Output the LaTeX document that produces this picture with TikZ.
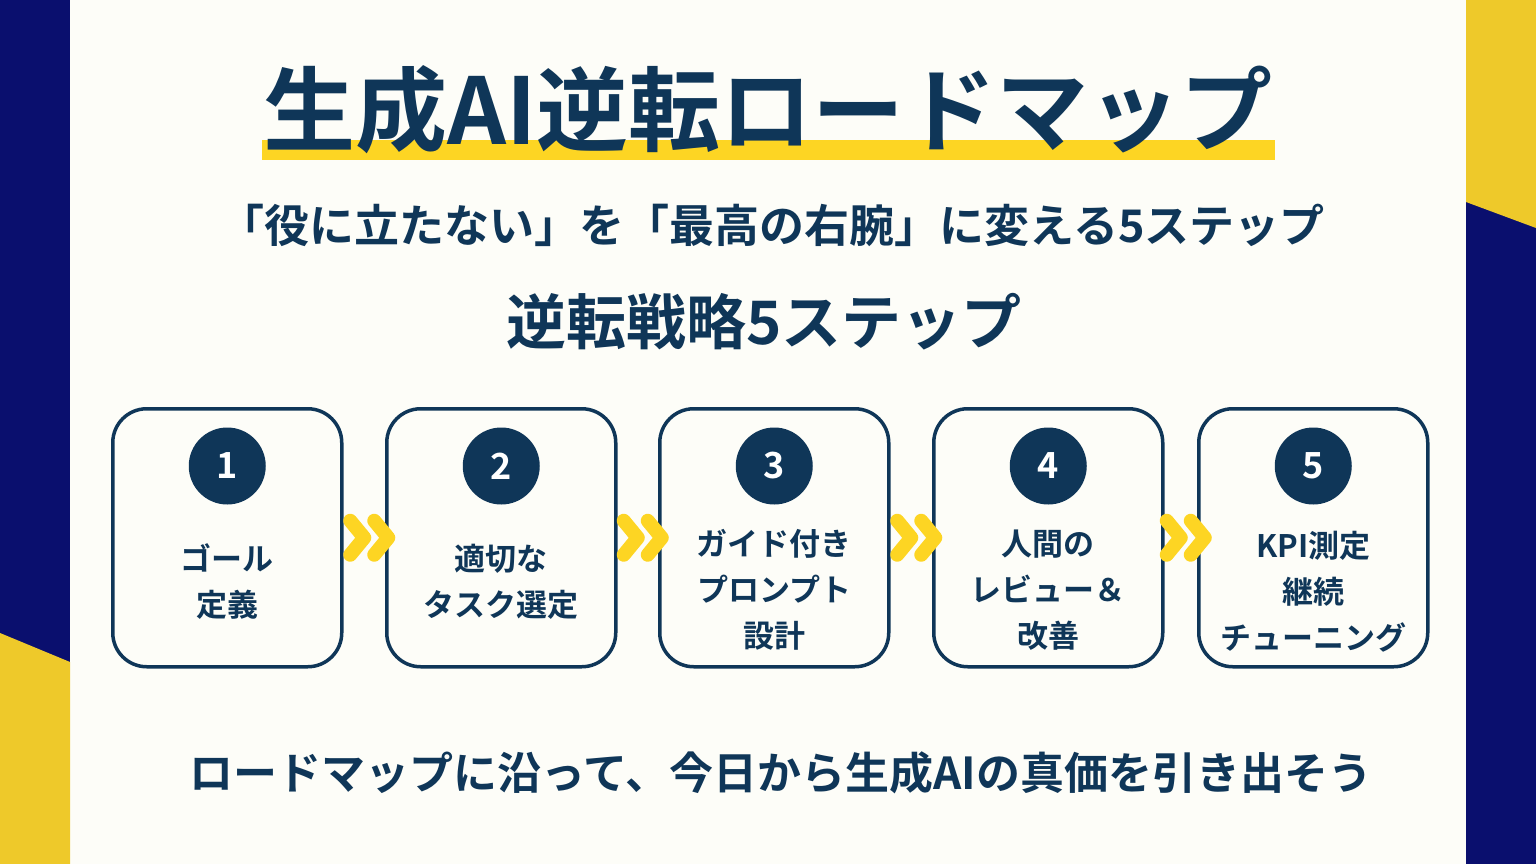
\documentclass[tikz,border=0pt]{standalone}
\usepackage{fontspec}
\usetikzlibrary{calc}
\setmainfont{Noto Sans CJK JP}[BoldFont={Noto Sans CJK JP Bold}]
\definecolor{navy}{HTML}{0A0F6E}
\definecolor{gold}{HTML}{EEC92A}
\definecolor{ink}{HTML}{0F3658}
\definecolor{paper}{HTML}{FDFDF8}
\definecolor{chev}{HTML}{FDD523}
\begin{document}
\begin{tikzpicture}[x=1pt,y=-1pt,
  stepbox/.style={draw=ink,line width=3.5pt,rounded corners=34pt,minimum width=229pt,minimum height=258pt,anchor=north west},
  numdot/.style={circle,fill=ink,minimum size=77pt,inner sep=0pt,text=white,font=\fontsize{36}{36}\selectfont\bfseries},
  boxtxt/.style={text=ink,align=center,font=\fontsize{31}{46}\selectfont\bfseries},
  chevline/.style={draw=chev,line width=14pt,line cap=round,line join=round}]
\useasboundingbox (0,0) rectangle (1536,864);
\fill[paper] (0,0) rectangle (1536,864);
\fill[navy] (0,0) rectangle (70,864);
\fill[gold] (0,633) -- (70,662) -- (70,864) -- (0,864) -- cycle;
\fill[navy] (1466,0) rectangle (1536,864);
\fill[gold] (1466,0) -- (1536,0) -- (1536,228) -- (1466,202) -- cycle;
\fill[chev] (262,140) rectangle (1275,160);
\node[text=ink,font=\fontsize{92}{92}\selectfont\bfseries] (title) at (768,110) {生成AI逆転ロードマップ};
\node[text=ink,font=\fontsize{45}{45}\selectfont\bfseries] (sub) at (772,225) {「役に立たない」を「最高の右腕」に変える5ステップ};
\node[text=ink,font=\fontsize{60}{60}\selectfont\bfseries] (head) at (764,322) {逆転戦略5ステップ};
\node[text=ink,font=\fontsize{44}{44}\selectfont\bfseries] (foot) at (781,773) {ロードマップに沿って、今日から生成AIの真価を引き出そう};
\foreach \i/\x/\t/\ty in {1/111/{ゴール\\定義}/582, 2/385/{適切な\\タスク選定}/582, 3/658/{ガイド付き\\プロンプト\\設計}/590, 4/932/{人間の\\レビュー＆\\改善}/590, 5/1197/{KPI測定\\継続\\チューニング}/592}{
  \node[stepbox] (b\i) at (\x,407) {};
  \node[numdot] (n\i) at ([yshift=-59pt]b\i.north) {\i};
  \node[boxtxt] (t\i) at (b\i.north |- 0,\ty) {\t};
}
\foreach \a/\b in {1/2,2/3,3/4,4/5}{
  \coordinate (m\a) at ($(b\a.east)!0.5!(b\b.west)$);
  \draw[chevline] ([shift={(-14,-17)}]m\a) -- ([shift={(0,0)}]m\a) -- ([shift={(-14,17)}]m\a);
  \draw[chevline] ([shift={(10,-17)}]m\a) -- ([shift={(24,0)}]m\a) -- ([shift={(10,17)}]m\a);
}
\end{tikzpicture}
\end{document}
